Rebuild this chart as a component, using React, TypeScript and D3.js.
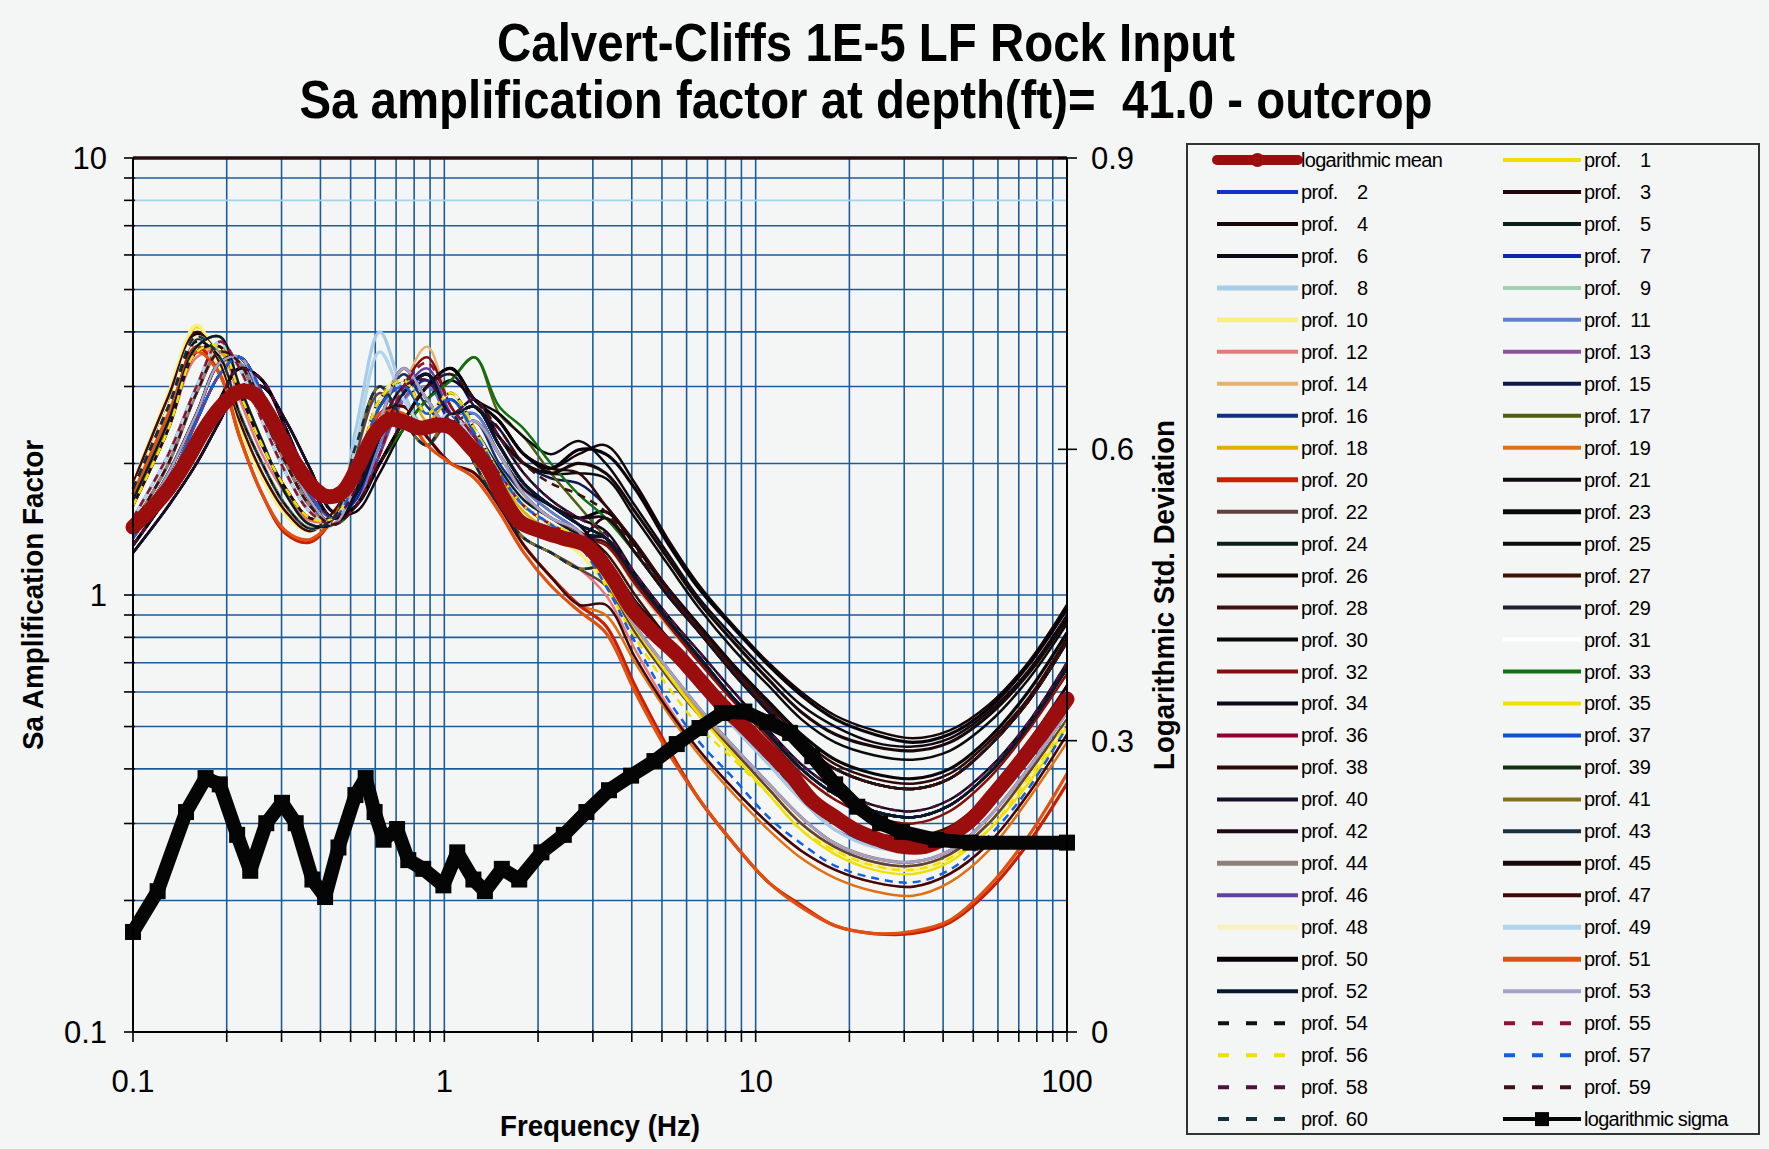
import React from 'react';
import * as d3 from 'd3';

// ---------------- DATA ----------------
const TITLE_1 = 'Calvert-Cliffs 1E-5 LF Rock Input';
const TITLE_2 = 'Sa amplification factor at depth(ft)=  41.0 - outcrop';
const X_LABEL = 'Frequency (Hz)';
const Y_LABEL = 'Sa Amplification Factor';
const Y2_LABEL = 'Logarithmic Std. Deviation';

const X_TICKS = [0.1, 1, 10, 100];
const X_TICK_LABELS = ['0.1', '1', '10', '100'];
const Y_TICKS = [0.1, 1, 10];
const Y_TICK_LABELS = ['0.1', '1', '10'];
const Y2_TICKS = [0, 0.3, 0.6, 0.9];
const Y2_TICK_LABELS = ['0', '0.3', '0.6', '0.9'];

const PROFILE_FREQ = [0.1, 0.13, 0.16, 0.19, 0.22, 0.26, 0.31, 0.37, 0.44, 0.52, 0.62, 0.74, 0.88, 1.05, 1.25, 1.5, 1.8, 2.2, 2.7, 3.3, 4.1, 5.2, 6.6, 8.5, 11, 14, 18, 24, 32, 42, 56, 75, 100];

const PROFILES: number[][] = [
  [1.8,2.85,4.1,3.4,2.5,1.9,1.55,1.4,1.55, 1.8,2.5,3.3,2.8,2.4,2.5,2.1,1.7,1.5,1.4, 1.2,0.95,0.78,0.64,0.52,0.42,0.35,0.3,0.27,0.26,0.28,0.33,0.43,0.58],
  [1.5,2.1,3.0,3.8,3.3,2.5,1.9,1.55,1.45, 1.7,2.3,2.9,3.2,2.6,2.7,2.2,1.8,1.6,1.45, 1.22,0.97,0.8,0.65,0.53,0.43,0.36,0.31,0.28,0.275,0.29,0.35,0.45,0.62],
  [1.75,2.7,3.9,3.5,2.6,2.0,1.6,1.42,1.5, 1.9,2.8,3.1,2.6,2.9,2.4,1.9,1.6,1.45,1.35, 1.5,1.25,1.0,0.82,0.66,0.54,0.45,0.4,0.37,0.36,0.38,0.45,0.57,0.78],
  [1.4,1.9,2.6,3.4,3.5,2.8,2.1,1.65,1.45, 1.6,2.0,2.5,3.0,3.3,2.8,2.5,2.1,1.95,2.1, 2.2,1.8,1.35,1.05,0.85,0.7,0.6,0.53,0.49,0.47,0.49,0.56,0.7,0.95],
  [1.45,2.0,2.9,3.6,3.4,2.6,2.0,1.6,1.45, 1.85,2.7,3.0,2.6,2.8,2.4,1.95,1.65,1.5,1.38, 1.35,1.1,0.88,0.72,0.58,0.48,0.4,0.35,0.32,0.31,0.33,0.39,0.5,0.68],
  [1.6,2.4,3.6,3.7,2.9,2.2,1.75,1.5,1.5, 1.75,2.4,3.0,3.1,2.6,2.8,2.3,1.9,1.65,1.5, 1.4,1.12,0.9,0.74,0.6,0.49,0.41,0.36,0.33,0.32,0.34,0.4,0.51,0.7],
  [1.35,1.8,2.5,3.2,3.5,2.9,2.2,1.7,1.5, 1.65,2.2,2.8,3.1,2.5,2.6,2.1,1.75,1.55,1.4, 1.18,0.94,0.76,0.62,0.5,0.41,0.34,0.29,0.27,0.265,0.28,0.33,0.43,0.58],
  [1.65,2.5,3.7,3.9,3.0,2.25,1.7,1.45,1.45, 2.4,4.0,2.9,2.4,2.6,2.2,1.8,1.5,1.4,1.3, 1.15,0.92,0.75,0.62,0.5,0.41,0.34,0.29,0.265,0.26,0.275,0.33,0.42,0.58],
  [1.5,2.1,3.0,3.7,3.3,2.5,1.9,1.55,1.45, 1.9,2.7,3.0,2.6,2.8,2.3,1.85,1.55,1.4,1.3, 1.1,0.85,0.68,0.55,0.45,0.37,0.31,0.27,0.25,0.245,0.26,0.31,0.4,0.54],
  [1.8,2.9,4.15,3.3,2.4,1.85,1.52,1.4,1.55, 1.95,2.8,3.2,2.6,2.9,2.3,1.8,1.5,1.35,1.25, 1.05,0.82,0.65,0.53,0.43,0.36,0.3,0.26,0.24,0.235,0.25,0.3,0.38,0.52],
  [1.4,1.9,2.6,3.4,3.4,2.8,2.1,1.65,1.45, 1.6,2.2,2.8,3.0,2.6,2.6,2.1,1.75,1.55,1.4, 1.2,0.96,0.78,0.64,0.52,0.42,0.35,0.3,0.275,0.27,0.285,0.34,0.44,0.6],
  [1.6,2.4,3.5,3.6,2.8,2.1,1.7,1.48,1.5, 2.2,3.0,2.5,2.2,2.6,2.0,1.6,1.35,1.25,1.15, 1.0,0.75,0.56,0.44,0.36,0.3,0.26,0.235,0.22,0.215,0.23,0.27,0.35,0.48],
  [1.3,1.7,2.2,2.8,3.3,3.1,2.4,1.8,1.5, 1.6,2.1,2.8,3.2,2.6,2.3,1.9,1.6,1.45,1.35, 1.18,0.95,0.77,0.63,0.52,0.42,0.35,0.3,0.28,0.27,0.285,0.34,0.44,0.6],
  [1.45,2.0,2.9,3.6,3.4,2.6,2.0,1.6,1.45, 1.6,2.1,3.0,3.7,2.7,2.3,1.9,1.6,1.45,1.35, 1.3,1.05,0.85,0.7,0.57,0.47,0.39,0.34,0.31,0.3,0.32,0.38,0.49,0.66],
  [1.25,1.6,2.0,2.5,3.0,3.0,2.5,1.95,1.55, 1.6,2.0,2.5,3.0,3.2,2.7,2.4,2.0,1.85,1.8, 1.6,1.3,1.02,0.83,0.67,0.55,0.46,0.4,0.37,0.36,0.38,0.45,0.57,0.78],
  [1.35,1.8,2.5,3.2,3.5,2.9,2.2,1.7,1.5, 1.8,2.5,3.2,2.7,2.4,2.5,2.0,1.7,1.5,1.4, 1.2,0.95,0.78,0.64,0.52,0.42,0.35,0.3,0.275,0.27,0.285,0.34,0.44,0.6],
  [1.5,2.1,3.0,3.8,3.3,2.5,1.9,1.55,1.45, 1.6,2.0,2.4,2.8,3.1,3.5,2.6,2.3,1.9,1.6, 1.35,1.1,0.88,0.72,0.58,0.48,0.4,0.35,0.32,0.31,0.33,0.39,0.5,0.68],
  [1.6,2.4,3.6,3.6,2.9,2.2,1.75,1.5,1.5, 1.9,2.7,3.1,2.5,2.8,2.3,1.85,1.55,1.4,1.3, 1.08,0.84,0.66,0.54,0.44,0.36,0.3,0.265,0.245,0.24,0.255,0.3,0.39,0.52],
  [1.3,1.7,2.2,2.8,3.3,3.1,2.4,1.8,1.5, 1.9,2.6,2.7,2.3,2.0,1.9,1.6,1.3,1.1,0.95, 0.9,0.7,0.54,0.43,0.35,0.29,0.25,0.225,0.21,0.205,0.22,0.26,0.34,0.46],
  [1.7,2.6,3.7,3.2,2.3,1.7,1.38,1.32,1.5, 1.9,2.6,2.7,2.3,2.0,1.9,1.6,1.3,1.1,0.95, 0.85,0.62,0.45,0.34,0.27,0.22,0.195,0.175,0.168,0.168,0.178,0.21,0.27,0.37],
  [1.25,1.6,2.0,2.5,3.0,3.0,2.5,1.95,1.55, 1.55,1.9,2.4,2.8,3.1,2.8,2.6,2.3,2.1,2.25, 2.0,1.6,1.25,0.98,0.8,0.66,0.56,0.5,0.46,0.45,0.47,0.54,0.67,0.9],
  [1.45,2.0,2.9,3.6,3.4,2.6,2.0,1.6,1.45, 2.1,2.9,2.5,2.2,2.5,2.0,1.6,1.35,1.25,1.15, 1.05,0.82,0.65,0.53,0.44,0.36,0.3,0.265,0.245,0.24,0.255,0.3,0.39,0.52],
  [1.75,2.7,3.95,3.5,2.6,2.0,1.6,1.42,1.5, 1.7,2.3,2.9,3.2,2.6,2.7,2.2,1.8,1.6,1.5, 1.55,1.3,1.04,0.85,0.69,0.57,0.48,0.42,0.39,0.38,0.4,0.47,0.6,0.82],
  [1.4,1.9,2.6,3.4,3.5,2.8,2.1,1.65,1.45, 1.85,2.7,3.0,2.6,2.8,2.35,1.9,1.6,1.45,1.35, 1.2,0.95,0.78,0.64,0.52,0.42,0.35,0.3,0.275,0.27,0.285,0.34,0.44,0.6],
  [1.65,2.5,3.7,3.9,3.0,2.25,1.7,1.45,1.45, 1.6,2.0,2.5,3.0,3.3,2.8,2.5,2.1,1.9,1.9, 1.85,1.5,1.18,0.93,0.75,0.62,0.52,0.46,0.43,0.42,0.44,0.51,0.64,0.86],
  [1.3,1.7,2.2,2.8,3.3,3.1,2.4,1.8,1.5, 1.7,2.3,2.9,3.2,2.6,2.7,2.2,1.8,1.6,1.45, 1.35,1.1,0.88,0.72,0.58,0.48,0.4,0.35,0.32,0.31,0.33,0.39,0.5,0.68],
  [1.5,2.1,3.0,3.8,3.3,2.5,1.9,1.55,1.45, 1.8,2.5,3.3,2.8,2.4,2.5,2.1,1.7,1.5,1.4, 1.25,1.0,0.8,0.66,0.54,0.44,0.36,0.31,0.285,0.28,0.295,0.35,0.46,0.62],
  [1.35,1.8,2.5,3.2,3.5,2.9,2.2,1.7,1.5, 1.85,2.7,3.1,2.6,2.9,2.4,1.9,1.6,1.45,1.35, 1.32,1.08,0.87,0.71,0.58,0.48,0.4,0.35,0.32,0.31,0.33,0.39,0.5,0.69],
  [1.75,2.7,3.85,3.5,2.6,2.0,1.6,1.42,1.5, 2.2,3.0,2.5,2.2,2.6,2.0,1.6,1.35,1.25,1.15, 1.15,0.92,0.75,0.62,0.51,0.42,0.35,0.3,0.275,0.27,0.285,0.34,0.44,0.6],
  [1.25,1.6,2.0,2.5,3.0,3.0,2.5,1.95,1.55, 1.7,2.3,2.9,3.2,2.6,2.7,2.2,1.8,1.6,1.5, 1.5,1.25,1.0,0.82,0.66,0.54,0.45,0.4,0.37,0.36,0.38,0.45,0.57,0.78],
  [1.5,2.1,3.0,3.8,3.3,2.5,1.9,1.55,1.45, 1.9,2.8,3.1,2.6,2.9,2.4,1.9,1.6,1.45,1.35, 1.2,0.95,0.78,0.64,0.52,0.42,0.35,0.3,0.275,0.27,0.285,0.34,0.44,0.6],
  [1.6,2.4,3.6,3.7,2.9,2.2,1.75,1.5,1.5, 1.6,2.1,3.0,3.5,2.7,2.3,1.9,1.6,1.45,1.35, 1.3,1.06,0.86,0.7,0.57,0.47,0.39,0.34,0.31,0.3,0.32,0.38,0.49,0.66],
  [1.4,1.9,2.6,3.4,3.5,2.8,2.1,1.65,1.45, 1.6,2.0,2.4,2.8,3.1,3.5,2.7,2.4,2.0,1.7, 1.5,1.25,1.0,0.82,0.66,0.54,0.45,0.4,0.37,0.36,0.38,0.45,0.57,0.78],
  [1.45,2.0,2.9,3.6,3.4,2.6,2.0,1.6,1.45, 1.7,2.3,2.9,3.2,2.6,2.7,2.2,1.8,1.6,1.45, 1.22,0.97,0.8,0.65,0.53,0.43,0.36,0.31,0.28,0.275,0.29,0.35,0.45,0.62],
  [1.65,2.5,3.7,3.9,3.0,2.25,1.7,1.45,1.45, 1.9,2.8,3.1,2.6,2.9,2.4,1.9,1.6,1.45,1.35, 1.08,0.84,0.66,0.53,0.43,0.35,0.29,0.255,0.235,0.23,0.245,0.29,0.37,0.5],
  [1.3,1.7,2.2,2.8,3.3,3.1,2.4,1.8,1.5, 1.8,2.5,3.3,2.8,2.4,2.5,2.1,1.7,1.5,1.4, 1.2,0.95,0.78,0.64,0.52,0.42,0.35,0.3,0.275,0.27,0.285,0.34,0.44,0.6],
  [1.4,1.9,2.6,3.4,3.5,2.8,2.1,1.65,1.45, 1.85,2.7,3.0,2.6,2.8,2.35,1.9,1.6,1.45,1.35, 1.1,0.85,0.68,0.55,0.45,0.37,0.31,0.27,0.25,0.245,0.26,0.31,0.4,0.54],
  [1.75,2.7,3.9,3.5,2.6,2.0,1.6,1.42,1.5, 1.6,2.0,2.5,3.0,3.3,2.8,2.5,2.1,1.95,1.9, 1.6,1.32,1.04,0.84,0.68,0.56,0.47,0.41,0.38,0.37,0.39,0.46,0.58,0.8],
  [1.5,2.1,3.0,3.8,3.3,2.5,1.9,1.55,1.45, 1.7,2.3,2.9,3.2,2.6,2.7,2.2,1.8,1.6,1.45, 1.35,1.1,0.88,0.72,0.58,0.48,0.4,0.35,0.32,0.31,0.33,0.39,0.5,0.68],
  [1.25,1.6,2.0,2.5,3.0,3.0,2.5,1.95,1.55, 1.9,2.8,3.1,2.6,2.9,2.4,1.9,1.6,1.45,1.35, 1.35,1.1,0.88,0.72,0.58,0.48,0.4,0.35,0.32,0.31,0.33,0.39,0.5,0.68],
  [1.35,1.8,2.5,3.2,3.5,2.9,2.2,1.7,1.5, 2.2,3.0,2.5,2.2,2.6,2.0,1.6,1.35,1.25,1.15, 1.15,0.92,0.75,0.62,0.51,0.42,0.35,0.3,0.275,0.27,0.285,0.34,0.44,0.6],
  [1.6,2.4,3.6,3.7,2.9,2.2,1.75,1.5,1.5, 1.8,2.5,3.3,2.8,2.4,2.5,2.1,1.75,1.6,1.5, 1.5,1.25,1.0,0.82,0.66,0.54,0.45,0.4,0.37,0.36,0.38,0.45,0.57,0.78],
  [1.3,1.7,2.2,2.8,3.3,3.1,2.4,1.8,1.5, 1.9,2.8,3.1,2.6,2.9,2.4,1.9,1.6,1.45,1.35, 1.2,0.95,0.78,0.64,0.52,0.42,0.35,0.3,0.275,0.27,0.285,0.34,0.44,0.6],
  [1.45,2.0,2.9,3.6,3.4,2.6,2.0,1.6,1.45, 1.8,2.5,3.3,2.8,2.4,2.5,2.1,1.7,1.5,1.4, 1.1,0.85,0.68,0.55,0.45,0.37,0.31,0.27,0.25,0.245,0.26,0.31,0.4,0.54],
  [1.4,1.9,2.6,3.4,3.5,2.8,2.1,1.65,1.45, 1.7,2.3,2.9,3.2,2.6,2.7,2.3,2.0,1.9,2.0, 1.9,1.55,1.22,0.96,0.78,0.64,0.54,0.48,0.45,0.44,0.46,0.53,0.66,0.88],
  [1.35,1.8,2.5,3.2,3.5,2.9,2.2,1.7,1.5, 1.6,2.1,2.9,3.3,2.6,2.3,1.9,1.6,1.45,1.35, 1.2,0.95,0.78,0.64,0.52,0.42,0.35,0.3,0.275,0.27,0.285,0.34,0.44,0.6],
  [1.8,2.85,4.0,3.4,2.5,1.9,1.55,1.4,1.55, 1.9,2.6,2.7,2.3,2.0,1.9,1.6,1.3,1.1,0.95, 0.95,0.72,0.55,0.44,0.36,0.3,0.26,0.235,0.22,0.215,0.23,0.27,0.35,0.48],
  [1.75,2.7,3.9,3.5,2.6,2.0,1.6,1.42,1.5, 1.9,2.8,3.1,2.6,2.9,2.4,1.9,1.6,1.45,1.35, 1.2,0.95,0.78,0.64,0.52,0.42,0.35,0.3,0.275,0.27,0.285,0.34,0.44,0.6],
  [1.5,2.1,3.0,3.8,3.3,2.5,1.9,1.55,1.45, 2.2,3.6,2.8,2.4,2.6,2.2,1.8,1.5,1.4,1.3, 1.18,0.94,0.77,0.63,0.51,0.42,0.35,0.3,0.275,0.27,0.285,0.34,0.44,0.6],
  [1.3,1.7,2.2,2.8,3.3,3.1,2.4,1.8,1.5, 1.6,2.0,2.5,3.0,3.3,2.8,2.5,2.1,1.95,2.15, 2.1,1.75,1.32,1.03,0.84,0.69,0.59,0.52,0.48,0.46,0.48,0.55,0.69,0.93],
  [1.7,2.6,3.6,3.2,2.3,1.7,1.4,1.34,1.5, 1.95,2.6,2.6,2.2,2.0,1.85,1.55,1.25,1.05,0.92, 0.82,0.6,0.44,0.34,0.27,0.22,0.193,0.175,0.168,0.17,0.18,0.215,0.28,0.39],
  [1.65,2.5,3.7,3.9,3.0,2.25,1.7,1.45,1.45, 1.7,2.3,2.9,3.2,2.6,2.7,2.2,1.8,1.6,1.45, 1.35,1.1,0.88,0.72,0.58,0.48,0.4,0.35,0.32,0.31,0.33,0.39,0.5,0.68],
  [1.4,1.9,2.6,3.4,3.5,2.8,2.1,1.65,1.45, 1.8,2.5,3.3,2.8,2.4,2.5,2.1,1.7,1.5,1.4, 1.1,0.85,0.68,0.55,0.45,0.37,0.31,0.27,0.25,0.245,0.26,0.31,0.4,0.54],
  [1.75,2.7,3.8,3.5,2.6,2.0,1.6,1.42,1.5, 1.9,2.8,3.1,2.6,2.9,2.4,1.9,1.6,1.45,1.35, 1.2,0.95,0.78,0.64,0.52,0.42,0.35,0.3,0.275,0.27,0.285,0.34,0.44,0.6],
  [1.5,2.1,3.0,3.8,3.3,2.5,1.9,1.55,1.45, 1.6,2.1,3.0,3.4,2.7,2.3,1.9,1.6,1.45,1.35, 1.2,0.95,0.78,0.64,0.52,0.42,0.35,0.3,0.275,0.27,0.285,0.34,0.44,0.6],
  [1.6,2.4,3.6,3.7,2.9,2.2,1.75,1.5,1.5, 1.9,2.8,3.1,2.6,2.9,2.4,1.9,1.6,1.45,1.35, 1.05,0.8,0.62,0.5,0.42,0.35,0.29,0.26,0.24,0.235,0.25,0.29,0.38,0.51],
  [1.35,1.8,2.5,3.2,3.5,2.9,2.2,1.7,1.5, 1.85,2.7,3.0,2.6,2.8,2.35,1.9,1.6,1.45,1.3, 1.05,0.78,0.58,0.46,0.38,0.31,0.27,0.24,0.225,0.22,0.235,0.28,0.36,0.5],
  [1.3,1.7,2.2,2.8,3.3,3.1,2.4,1.8,1.5, 1.75,2.4,3.0,3.1,2.6,2.8,2.3,1.9,1.65,1.5, 1.38,1.12,0.9,0.74,0.6,0.49,0.41,0.36,0.33,0.32,0.34,0.4,0.51,0.7],
  [1.45,2.0,2.9,3.6,3.4,2.6,2.0,1.6,1.45, 1.6,2.0,2.5,3.0,3.2,2.8,2.4,2.0,1.8,1.7, 1.55,1.28,1.02,0.83,0.67,0.55,0.46,0.4,0.37,0.36,0.38,0.45,0.57,0.78],
  [1.75,2.7,3.9,3.5,2.6,2.0,1.6,1.42,1.5, 2.2,3.0,2.5,2.2,2.6,2.0,1.6,1.35,1.25,1.15, 1.15,0.92,0.75,0.62,0.51,0.42,0.35,0.3,0.275,0.27,0.285,0.34,0.44,0.6],
];

const MEAN_FREQ = [0.1, 0.115, 0.13, 0.15, 0.17, 0.19, 0.21, 0.225, 0.245, 0.27, 0.3, 0.34, 0.38, 0.42, 0.47, 0.53, 0.6, 0.67, 0.75, 0.84, 0.95, 1.05, 1.2, 1.37, 1.55, 1.75, 2.05, 2.4, 2.85, 3.4, 4.0, 4.7, 5.6, 6.6, 7.8, 9.2, 10.9, 12.9, 15.2, 18, 21.2, 25, 29.5, 35, 41, 49, 58, 68, 81, 100];
const MEAN_VALUES = [1.43, 1.58, 1.75, 2.05, 2.4, 2.68, 2.87, 2.93, 2.88, 2.62, 2.28, 1.95, 1.76, 1.68, 1.72, 1.98, 2.35, 2.52, 2.48, 2.41, 2.45, 2.42, 2.2, 1.97, 1.66, 1.47, 1.4, 1.35, 1.3, 1.12, 0.93, 0.82, 0.73, 0.64, 0.56, 0.5, 0.442, 0.39, 0.338, 0.31, 0.288, 0.275, 0.266, 0.266, 0.279, 0.305, 0.349, 0.4, 0.47, 0.578];

const SIGMA_FREQ = [0.1, 0.12, 0.148, 0.171, 0.19, 0.216, 0.238, 0.268, 0.301, 0.333, 0.377, 0.414, 0.457, 0.518, 0.559, 0.597, 0.638, 0.705, 0.766, 0.855, 0.993, 1.1, 1.24, 1.35, 1.53, 1.74, 2.05, 2.42, 2.86, 3.38, 3.98, 4.73, 5.58, 6.6, 7.8, 9.2, 10.9, 12.9, 15.2, 18, 21.2, 25.1, 29.5, 38, 49, 100];
const SIGMA_VALUES = [0.103, 0.145, 0.2265, 0.2615, 0.255, 0.203, 0.166, 0.215, 0.236, 0.215, 0.157, 0.139, 0.19, 0.244, 0.2615, 0.2265, 0.198, 0.209, 0.177, 0.168, 0.151, 0.185, 0.157, 0.145, 0.168, 0.157, 0.185, 0.203, 0.2265, 0.249, 0.264, 0.279, 0.2965, 0.313, 0.3285, 0.33, 0.319, 0.308, 0.284, 0.255, 0.232, 0.215, 0.206, 0.198, 0.195, 0.195];

// ---------------- STYLES ----------------
const PROFILE_COLORS = [
  '#f0e000', '#1030d0', '#200808', '#150505', '#0a2020', '#0a0a14', '#0a28b0', '#a8cce8', '#a0d0b0', '#f8f080',
  '#6080d0', '#e87878', '#9050a0', '#e8b070', '#101850', '#103080', '#506010', '#e0b000', '#e07010', '#c82000',
  '#100810', '#604040', '#080808', '#082018', '#0a0a0a', '#100800', '#401000', '#401010', '#202030', '#080808',
  '#ffffff', '#801010', '#107010', '#100818', '#f0e000', '#900030', '#1050d0', '#300808', '#103010', '#181028',
  '#807020', '#200818', '#183040', '#908078', '#180808', '#6040a0', '#400808', '#f8f0c0', '#b0d4ec', '#080008',
  '#e05010', '#081830', '#a8a0c8', '#101010', '#901030', '#f0e000', '#1060e0', '#501040', '#401010', '#103040',
];
const THICK_PROFILES = [8, 10, 20, 23, 44, 45, 48, 49, 50, 51];
const DASHED_PROFILES = [54, 55, 56, 57, 58, 59, 60];
const MEAN_COLOR = '#9c0d0d';
const GRID_COLOR = '#1d5c98';
const BG = '#f4f6f5';
const FONT = "'Liberation Sans', Arial, Helvetica, sans-serif";

const W = 1769;
const H = 1149;
const PLOT = { left: 133, right: 1067, top: 158, bottom: 1032 };

export default function App() {
  const x = d3.scaleLog().domain([0.1, 100]).range([PLOT.left, PLOT.right]);
  const y = d3.scaleLog().domain([0.1, 10]).range([PLOT.bottom, PLOT.top]);
  const y2 = d3.scaleLinear().domain([0, 0.9]).range([PLOT.bottom, PLOT.top]);

  const minor: number[] = [];
  [0.1, 1, 10].forEach((d) => {
    for (let k = 1; k <= 9; k++) minor.push(+(d * k).toPrecision(3));
  });
  const xGrid = [...minor, 100];
  const yGridVals = minor.filter((v) => v < 10);

  const profileLine = d3
    .line<number>()
    .x((_, i) => x(PROFILE_FREQ[i]))
    .y((v) => y(v))
    .curve(d3.curveCatmullRom.alpha(0.5));

  const meanLine = d3
    .line<number>()
    .x((_, i) => x(MEAN_FREQ[i]))
    .y((v) => y(v))
    .curve(d3.curveCatmullRom.alpha(0.5));

  const sigmaLine = d3
    .line<number>()
    .x((_, i) => x(SIGMA_FREQ[i]))
    .y((v) => y2(v));

  const legendEntries: { kind: 'mean' | 'sigma' | 'prof'; n?: number }[] = [{ kind: 'mean' }];
  for (let i = 1; i <= 60; i++) legendEntries.push({ kind: 'prof', n: i });
  legendEntries.push({ kind: 'sigma' });
  const LEG = { x: 1187, y: 144, w: 572, h: 990, row0: 160, rowStep: 31.97, colLine: [1217, 1503], lineLen: [81, 78] };

  return (
    <svg
      width={W}
      height={H}
      style={{ position: 'absolute', left: 0, top: 0, background: BG }}
      fontFamily={FONT}
    >
      <rect x={0} y={0} width={W} height={H} fill={BG} />

      {/* titles */}
      <text x={866} y={61} textAnchor="middle" fontWeight="bold" fontSize={53} textLength={738} lengthAdjust="spacingAndGlyphs">
        {TITLE_1}
      </text>
      <text x={866} y={118} textAnchor="middle" fontWeight="bold" fontSize={53} textLength={1133} lengthAdjust="spacingAndGlyphs" style={{ whiteSpace: 'pre' }}>
        {TITLE_2}
      </text>

      {/* grid */}
      {xGrid.map((v) => (
        <line key={'xg' + v} x1={x(v)} x2={x(v)} y1={PLOT.top} y2={PLOT.bottom} stroke={GRID_COLOR} strokeWidth={1.6} />
      ))}
      {yGridVals.map((v) => (
        <line
          key={'yg' + v}
          x1={PLOT.left}
          x2={PLOT.right}
          y1={y(v)}
          y2={y(v)}
          stroke={v === 8 ? '#9fd4ec' : GRID_COLOR}
          strokeWidth={1.6}
        />
      ))}

      {/* profiles */}
      {PROFILES.map((vals, i) => {
        const n = i + 1;
        return (
          <path
            key={'p' + n}
            d={profileLine(vals) || ''}
            fill="none"
            stroke={PROFILE_COLORS[i]}
            strokeWidth={THICK_PROFILES.includes(n) ? 3.2 : 2.5}
            strokeDasharray={DASHED_PROFILES.includes(n) ? '8 6' : undefined}
          />
        );
      })}

      {/* mean */}
      <path d={meanLine(MEAN_VALUES) || ''} fill="none" stroke={MEAN_COLOR} strokeWidth={15} strokeLinejoin="round" strokeLinecap="round" />

      {/* sigma */}
      <path d={sigmaLine(SIGMA_VALUES) || ''} fill="none" stroke="#050505" strokeWidth={14} strokeLinejoin="round" />
      {SIGMA_VALUES.map((s, i) => (
        <rect key={'sq' + i} x={x(SIGMA_FREQ[i]) - 8} y={y2(s) - 8} width={16} height={16} fill="#050505" />
      ))}

      {/* frame */}
      <line x1={PLOT.left} x2={PLOT.right} y1={PLOT.top} y2={PLOT.top} stroke="#2a0d0d" strokeWidth={3.5} />
      <line x1={PLOT.left} x2={PLOT.right} y1={PLOT.bottom} y2={PLOT.bottom} stroke="#000" strokeWidth={2} />
      <line x1={PLOT.left} x2={PLOT.left} y1={PLOT.top} y2={PLOT.bottom} stroke="#000" strokeWidth={2} />
      <line x1={PLOT.right} x2={PLOT.right} y1={PLOT.top} y2={PLOT.bottom} stroke="#000" strokeWidth={2} />

      {/* ticks */}
      {yGridVals.concat([10]).map((v) => (
        <line key={'yt' + v} x1={PLOT.left - 9} x2={PLOT.left + 2} y1={y(v)} y2={y(v)} stroke="#000" strokeWidth={1.6} />
      ))}
      {xGrid.map((v) => (
        <line key={'xt' + v} x1={x(v)} x2={x(v)} y1={PLOT.bottom - 2} y2={PLOT.bottom + 10} stroke="#000" strokeWidth={1.6} />
      ))}
      {Y2_TICKS.map((v) => (
        <line key={'y2t' + v} x1={PLOT.right - 9} x2={PLOT.right + 10} y1={y2(v)} y2={y2(v)} stroke="#000" strokeWidth={1.6} />
      ))}

      {/* tick labels */}
      {Y_TICKS.map((v, i) => (
        <text key={'yl' + v} x={PLOT.left - 26} y={y(v) + 11} textAnchor="end" fontSize={31}>
          {Y_TICK_LABELS[i]}
        </text>
      ))}
      {X_TICKS.map((v, i) => (
        <text key={'xl' + v} x={x(v)} y={1092} textAnchor="middle" fontSize={31}>
          {X_TICK_LABELS[i]}
        </text>
      ))}
      {Y2_TICKS.map((v, i) => (
        <text key={'y2l' + v} x={PLOT.right + 24} y={y2(v) + 11} textAnchor="start" fontSize={31}>
          {Y2_TICK_LABELS[i]}
        </text>
      ))}

      {/* axis titles */}
      <text x={600} y={1136} textAnchor="middle" fontWeight="bold" fontSize={29} textLength={200} lengthAdjust="spacingAndGlyphs">
        {X_LABEL}
      </text>
      <text
        transform={`translate(43,${595}) rotate(-90)`}
        textAnchor="middle"
        fontWeight="bold"
        fontSize={29}
        textLength={310}
        lengthAdjust="spacingAndGlyphs"
      >
        {Y_LABEL}
      </text>
      <text
        transform={`translate(1174,${595}) rotate(-90)`}
        textAnchor="middle"
        fontWeight="bold"
        fontSize={29}
        textLength={350}
        lengthAdjust="spacingAndGlyphs"
      >
        {Y2_LABEL}
      </text>

      {/* legend */}
      <rect x={LEG.x} y={LEG.y} width={LEG.w} height={LEG.h} fill={BG} stroke="#333" strokeWidth={2} />
      {legendEntries.map((e, idx) => {
        const row = Math.floor(idx / 2);
        const col = idx % 2;
        const cy = LEG.row0 + row * LEG.rowStep;
        const lx0 = LEG.colLine[col];
        const lx1 = lx0 + LEG.lineLen[col];
        const tx = lx1 + 3;
        if (e.kind === 'mean') {
          return (
            <g key="lm">
              <line x1={lx0} x2={lx1} y1={cy} y2={cy} stroke={MEAN_COLOR} strokeWidth={10} strokeLinecap="round" />
              <circle cx={(lx0 + lx1) / 2} cy={cy} r={7} fill={MEAN_COLOR} />
              <text x={tx} y={cy + 7} fontSize={20} letterSpacing={-0.7}>logarithmic mean</text>
            </g>
          );
        }
        if (e.kind === 'sigma') {
          return (
            <g key="ls">
              <line x1={lx0} x2={lx1} y1={cy} y2={cy} stroke="#050505" strokeWidth={4} />
              <rect x={(lx0 + lx1) / 2 - 7} y={cy - 7} width={14} height={14} fill="#050505" />
              <text x={tx} y={cy + 7} fontSize={20} letterSpacing={-0.7}>logarithmic sigma</text>
            </g>
          );
        }
        const n = e.n as number;
        const dashed = DASHED_PROFILES.includes(n);
        return (
          <g key={'l' + n}>
            <line
              x1={dashed ? lx0 + 1 : lx0}
              x2={dashed ? lx1 - 4 : lx1}
              y1={cy}
              y2={cy}
              stroke={PROFILE_COLORS[n - 1]}
              strokeWidth={THICK_PROFILES.includes(n) ? 5 : 4}
              strokeDasharray={dashed ? '11 17' : undefined}
            />
            <text x={tx} y={cy + 7} fontSize={20} letterSpacing={-0.7}>prof.</text>
            <text x={tx + 67} y={cy + 7} fontSize={20} textAnchor="end">{n}</text>
          </g>
        );
      })}
    </svg>
  );
}
